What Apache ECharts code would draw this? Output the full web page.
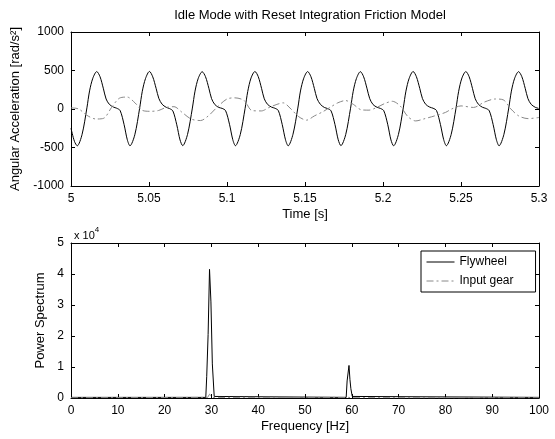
<!DOCTYPE html>
<html>
<head>
<meta charset="utf-8">
<script src="https://cdn.jsdelivr.net/npm/echarts@6/dist/echarts.min.js"></script>
<style>
html,body{margin:0;padding:0;background:#fff;}
#chart{width:555px;height:439px;}
</style>
</head>
<body>
<div id="chart"></div>
<script>
// top plot: angular acceleration vs time [s, rad/s^2]
var flywheelAccel = [
	[5.0000,-250],[5.0022,-420],
	[5.0040,-478],[5.0071,-330],[5.0102,15],[5.0119,235],[5.0140,400],[5.0165,486],[5.0186,420],[5.0208,262],[5.0225,130],[5.0246,60],[5.0272,25],[5.0293,10],[5.0315,-20],[5.0340,-200],[5.0361,-400],
	[5.0378,-478],[5.0409,-335],[5.0440,10],[5.0457,230],[5.0478,398],[5.0503,488],[5.0524,418],[5.0546,265],[5.0563,138],[5.0584,62],[5.0610,22],[5.0631,6],[5.0653,-25],[5.0678,-205],[5.0699,-402],
	[5.0716,-476],[5.0747,-330],[5.0778,12],[5.0795,232],[5.0816,400],[5.0841,484],[5.0862,420],[5.0884,268],[5.0901,135],[5.0922,58],[5.0948,20],[5.0969,8],[5.0991,-22],[5.1016,-198],[5.1037,-398],
	[5.1054,-477],[5.1085,-332],[5.1116,8],[5.1133,228],[5.1154,402],[5.1179,487],[5.1200,422],[5.1222,264],[5.1239,132],[5.1260,60],[5.1286,24],[5.1307,10],[5.1329,-20],[5.1354,-202],[5.1375,-400],
	[5.1392,-478],[5.1423,-328],[5.1454,12],[5.1471,234],[5.1492,400],[5.1517,486],[5.1538,420],[5.1560,266],[5.1577,136],[5.1598,62],[5.1624,20],[5.1645,6],[5.1667,-24],[5.1692,-200],[5.1713,-400],
	[5.1730,-476],[5.1761,-332],[5.1792,10],[5.1809,230],[5.1830,398],[5.1855,485],[5.1876,418],[5.1898,262],[5.1915,134],[5.1936,58],[5.1962,22],[5.1983,8],[5.2005,-22],[5.2030,-198],[5.2051,-402],
	[5.2068,-478],[5.2099,-330],[5.2130,14],[5.2147,232],[5.2168,400],[5.2193,487],[5.2214,420],[5.2236,265],[5.2253,135],[5.2274,60],[5.2300,24],[5.2321,10],[5.2343,-20],[5.2368,-200],[5.2389,-398],
	[5.2406,-477],[5.2437,-330],[5.2468,10],[5.2485,230],[5.2506,402],[5.2531,486],[5.2552,420],[5.2574,264],[5.2591,134],[5.2612,60],[5.2638,22],[5.2659,8],[5.2681,-22],[5.2706,-202],[5.2727,-400],
	[5.2744,-478],[5.2775,-330],[5.2806,12],[5.2823,232],[5.2844,400],[5.2869,485],[5.2890,420],[5.2912,265],[5.2929,135],[5.2950,60],[5.2976,22],[5.2997,8],[5.3000,5]
];
var inputGearAccel = [
	[5.000,15],[5.005,0],[5.010,-80],[5.016,-130],[5.021,-120],[5.026,20],[5.031,140],[5.036,155],[5.041,80],
	[5.046,-20],[5.051,-30],[5.056,-20],[5.061,20],[5.066,30],[5.071,-40],[5.077,-130],[5.083,-150],[5.088,-90],
	[5.094,30],[5.100,130],[5.105,145],[5.111,110],[5.116,-20],[5.122,-25],[5.127,20],[5.132,60],[5.136,80],
	[5.141,0],[5.146,-100],[5.151,-145],[5.156,-90],[5.161,-40],[5.166,20],[5.171,80],[5.176,110],[5.181,60],
	[5.186,-10],[5.191,-15],[5.196,20],[5.201,70],[5.206,100],[5.211,40],[5.216,-100],[5.221,-155],[5.226,-130],
	[5.233,-90],[5.240,-45],[5.244,0],[5.250,40],[5.258,20],[5.265,90],[5.272,130],[5.277,120],[5.282,0],
	[5.287,-90],[5.293,-125],[5.300,-110]
];
// bottom plot: power spectrum [Hz, x10^4]
var flywheelPower = [
	[0,0.02],[13.4,0.02],[13.7,0.05],[14.0,0.02],[28.8,0.02],[29.0,0.7],[29.2,0.7],[29.3,2.05],[29.5,2.05],
	[29.6,4.15],[29.8,4.15],[29.9,3.1],[30.1,3.1],[30.2,1.1],[30.4,1.1],[30.6,0.05],[58.8,0.02],[59.0,0.55],
	[59.2,0.6],[59.4,1.05],[59.6,0.6],[59.8,0.3],[60.1,0.05],[100,0.02]
];
var inputGearPower = [
	[0,0.01],[29.2,0.02],[29.6,0.12],[30.0,0.1],[30.3,0.02],[59.3,0.02],[59.7,0.05],[60.0,0.01],[100,0.01]
];
var seriesNames = ['Flywheel', 'Input gear'];
var titleText = 'Idle Mode with Reset Integration Friction Model';

var FONT = 'Liberation Sans, Arial, sans-serif';
var dashDot = [7, 3, 2, 3];

function mirrorAxis(grid, pos, min, max, step) {
	return {
		type: 'value', gridIndex: grid, position: pos, min: min, max: max, interval: step,
		axisLine: {show: true, onZero: false, lineStyle: {color: '#000', width: 1}},
		axisTick: {show: true, inside: true, length: 4, lineStyle: {color: '#000'}},
		axisLabel: {show: false}, splitLine: {show: false}
	};
}
function mainAxis(grid, pos, min, max, step, name, gap, fmt) {
	return {
		type: 'value', gridIndex: grid, position: pos, min: min, max: max, interval: step,
		name: name, nameLocation: 'middle', nameGap: gap,
		nameTextStyle: {color: '#000', fontSize: 13, fontFamily: FONT},
		axisLine: {show: true, onZero: false, lineStyle: {color: '#000', width: 1}},
		axisTick: {show: true, inside: true, length: 4, lineStyle: {color: '#000'}},
		axisLabel: {color: '#000', fontSize: 12, fontFamily: FONT, margin: 7, formatter: fmt || plain},
		splitLine: {show: false}
	};
}
function plain(v) { return String(v); }
function fmt2(v) { return String(parseFloat(v.toFixed(2))); }

var mycharts = echarts.init(document.getElementById('chart'), null, {renderer: 'canvas'});
var option = {
	backgroundColor: '#fff',
	animation: false,
	title: {
		text: titleText, left: 305, top: 4, textAlign: 'center',
		textStyle: {fontSize: 13, fontWeight: 'normal', color: '#000', fontFamily: FONT}
	},
	legend: {
		data: seriesNames, orient: 'vertical', left: 421, top: 251,
		backgroundColor: '#fff', borderColor: '#000', borderWidth: 1, borderRadius: 0,
		padding: [5, 22, 5, 5], itemGap: 7, itemWidth: 28, itemHeight: 10,
		itemStyle: {opacity: 0},
		lineStyle: {width: 1},
		textStyle: {fontSize: 12, color: '#000', fontFamily: FONT}
	},
	grid: [
		{left: 71, width: 468, top: 32, height: 154},
		{left: 71, width: 468, top: 243, height: 155}
	],
	graphic: [{
		type: 'text', left: 74, top: 226,
		style: {
			text: '{a|x 10}{b|4}',
			rich: {
				a: {fontSize: 11, fontFamily: FONT, fill: '#000', padding: [4, 0, 0, 0]},
				b: {fontSize: 8, fontFamily: FONT, fill: '#000', verticalAlign: 'top'}
			}
		}
	}],
	xAxis: [
		mainAxis(0, 'bottom', 5, 5.3, 0.05, 'Time [s]', 22, fmt2),
		mirrorAxis(0, 'top', 5, 5.3, 0.05),
		mainAxis(1, 'bottom', 0, 100, 10, 'Frequency [Hz]', 22),
		mirrorAxis(1, 'top', 0, 100, 10)
	],
	yAxis: [
		mainAxis(0, 'left', -1000, 1000, 500, 'Angular Acceleration [rad/s\u00b2]', 45),
		mirrorAxis(0, 'right', -1000, 1000, 500),
		mainAxis(1, 'left', 0, 5, 1, 'Power Spectrum', 18),
		mirrorAxis(1, 'right', 0, 5, 1)
	],
	series: [{
		name: seriesNames[0], type: 'line', xAxisIndex: 0, yAxisIndex: 0,
		symbol: 'none', smooth: 0.3, data: flywheelAccel,
		lineStyle: {color: '#000', width: 1}, itemStyle: {color: '#000'}
	}, {
		name: seriesNames[1], type: 'line', xAxisIndex: 0, yAxisIndex: 0,
		symbol: 'none', smooth: 0.3, data: inputGearAccel,
		lineStyle: {color: '#888', width: 1, type: dashDot}, itemStyle: {color: '#888'}
	}, {
		name: seriesNames[0], type: 'line', xAxisIndex: 2, yAxisIndex: 2,
		symbol: 'none', data: flywheelPower,
		lineStyle: {color: '#000', width: 1}, itemStyle: {color: '#000'}
	}, {
		name: seriesNames[1], type: 'line', xAxisIndex: 2, yAxisIndex: 2,
		symbol: 'none', data: inputGearPower,
		lineStyle: {color: '#888', width: 1, type: dashDot}, itemStyle: {color: '#888'}
	}]
};
mycharts.setOption(option);
</script>
</body>
</html>
